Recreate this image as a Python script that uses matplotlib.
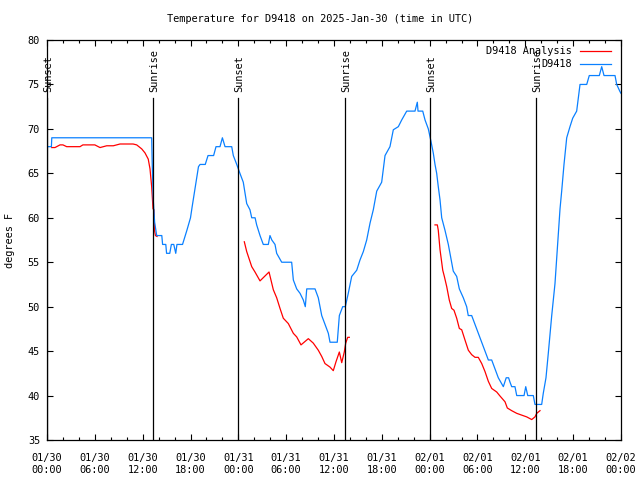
import numpy as np
import matplotlib
matplotlib.use("Agg")
import matplotlib.pyplot as plt

# hours since 2025-01-30 00:00 UTC
obs_hours = [0.0, 0.55, 0.6, 13.13, 13.2, 13.33, 13.5, 13.76, 14.4, 14.5, 14.9, 15.0, 15.4, 15.6, 15.9,
             16.15, 16.3, 17.0, 17.55, 18.0, 18.2, 18.6, 19.0, 19.2, 19.85, 20.2, 20.9, 21.2, 21.7, 22.0,
             22.33, 23.17, 23.37, 23.8, 24.2, 24.62, 24.84, 25.05, 25.46, 25.68, 26.1, 26.3, 26.72, 27.13,
             27.76, 27.97, 28.2, 28.6, 28.81, 29.44, 30.69, 30.9, 31.32, 31.74, 32.15, 32.4, 32.58, 33.62,
             34.03, 34.46, 34.87, 35.29, 35.5, 36.41, 36.67, 37.09, 37.42, 37.79, 38.22, 38.85, 39.26,
             39.68, 40.1, 40.52, 40.93, 41.36, 41.98, 42.4, 43.02, 43.44, 44.07, 44.49, 45.12, 46.16,
             46.45, 46.54, 47.13, 47.42, 47.83, 48.13, 48.46, 48.67, 48.88, 49.08, 49.3, 49.51, 49.92,
             50.34, 50.55, 50.96, 51.39, 51.72, 52.22, 52.64, 52.84, 53.27, 53.69, 54.1, 54.53, 54.94,
             55.36, 55.78, 56.2, 56.61, 57.24, 57.6, 57.9, 58.08, 58.29, 58.7, 58.92, 59.84, 60.05, 60.3,
             61.0, 61.21, 62.05, 62.25, 62.59, 62.88, 63.31, 63.72, 64.01, 64.35, 64.56, 64.85, 65.19,
             65.6, 65.94, 66.44, 66.86, 67.7, 68.02, 69.28, 69.58, 69.87, 71.25, 71.46, 71.87, 72.0]
obs_temp = [68, 68, 69, 69, 66, 62, 59.5, 58, 58, 57, 57, 56, 56, 57, 57,
            56, 57, 57, 58.6, 60, 61.2, 63.5, 65.75, 66, 66, 67, 67, 68, 68, 69,
            68, 68, 67, 66, 65, 64, 62.75, 61.6, 60.9, 60, 60, 59.2, 58, 57,
            57, 58, 57.5, 57, 56, 55, 55, 53, 52, 51.5, 50.75, 50, 52, 52,
            51, 49, 48, 47, 46, 46, 49, 50, 50, 51.5, 53.4, 54.1, 55.25,
            56.2, 57.5, 59.4, 60.9, 63, 64, 67, 68, 69.9, 70.25, 71, 72, 72,
            73, 72, 72, 71, 70, 68.75, 67.25, 66, 65, 63.5, 62, 60, 58.6,
            57, 56, 54, 53.4, 52, 51, 50, 49, 49, 48, 47, 46, 45,
            44, 44, 43, 42, 41, 42, 42, 41.5, 41, 41, 40, 40, 41, 40,
            40, 39, 39, 40.25, 42, 44.75, 49, 52.6, 56.4, 61, 63, 66, 69,
            70.25, 71.2, 72, 75, 75, 76, 76, 77, 76, 76, 75, 74.2, 74]

ana_hours = [0.59, 1.0, 1.63, 2.0, 2.47, 4.14, 4.5, 6.0, 6.65, 7.49, 8.32, 9.16, 10.8, 11.25, 11.88,
             12.29, 12.7, 12.92, 13.13, 13.3, 13.42, 13.5, 13.6, 13.8, np.nan,
             24.75, 25.05, 25.68, 26.09, 26.72, 27.85, 28.39, 28.81, 29.23, 29.64, 30.27, 30.9, 31.32,
             31.86, 32.78, 33.4, 34.03, 34.46, 34.87, 35.5, 35.91, 36.25, 36.67, 36.97, 37.29, 37.47,
             37.72, 37.92, np.nan,
             48.67, 48.96, 49.08, 49.3, 49.64, 49.84, 50.14, 50.46, 50.76, 51.05, 51.39, 51.72, 52.02,
             52.43, 52.85, 53.27, 53.69, 54.1, 54.53, 54.94, 55.36, 55.78, 56.41, 56.82, 57.45, 57.74,
             58.29, 58.92, 59.54, 60.17, 60.8, 61.21, 61.43, 61.84]
ana_temp = [67.9, 67.9, 68.2, 68.2, 68.0, 68.0, 68.2, 68.2, 67.9, 68.1, 68.1, 68.3, 68.3, 68.2, 67.75,
            67.3, 66.6, 65.5, 63.5, 61, 60.9, 58.5, 58, 57.9, np.nan,
            57.3, 56.2, 54.5, 53.9, 52.9, 53.9, 51.9, 51.0, 49.8, 48.7, 48.1, 47.0, 46.6,
            45.7, 46.4, 45.9, 45.1, 44.4, 43.6, 43.2, 42.8, 43.8, 44.9, 43.7, 44.9, 45.9,
            46.55, 46.55, np.nan,
            59.2, 59.2, 58.6, 56.4, 54.1, 53.4, 52.25, 50.75, 49.8, 49.6, 48.7, 47.55, 47.4,
            46.25, 45.1, 44.6, 44.3, 44.3, 43.6, 42.7, 41.6, 40.8, 40.4, 39.95, 39.3, 38.6,
            38.3, 38.0, 37.8, 37.6, 37.3, 37.6, 38.0, 38.3]

sun_hours = [0.0, 13.33, 24.0, 37.42, 48.08, 61.38]
sun_labels = ["Sunset", "Sunrise", "Sunset", "Sunrise", "Sunset", "Sunrise"]

tick_hours = [0, 6, 12, 18, 24, 30, 36, 42, 48, 54, 60, 66, 72]
tick_labels = ["01/30\n00:00", "01/30\n06:00", "01/30\n12:00", "01/30\n18:00",
               "01/31\n00:00", "01/31\n06:00", "01/31\n12:00", "01/31\n18:00",
               "02/01\n00:00", "02/01\n06:00", "02/01\n12:00", "02/01\n18:00",
               "02/02\n00:00"]

plt.rcParams['font.family'] = 'DejaVu Sans Mono'
fs = 7.4

fig = plt.figure(figsize=(6.4, 4.8), dpi=100)
ax = fig.add_axes([47/640, 40/480, 574/640, 400/480])

ax.plot(ana_hours, ana_temp, color="#ff0000", lw=0.9, label="D9418 Analysis")
ax.plot(obs_hours, obs_temp, color="#0a80ff", lw=0.9, label="D9418")

for h, lab in zip(sun_hours, sun_labels):
    ax.plot([h, h], [35, 73.5], color="k", lw=0.9)
    ax.text(h + 0.1, 74.15, lab, rotation=90, ha="center", va="bottom", fontsize=fs)

ax.set_xlim(0, 72)
ax.set_ylim(35, 80)
ax.set_xticks(tick_hours)
ax.set_xticklabels(tick_labels, fontsize=fs, linespacing=1.3)
ax.set_xticks(np.arange(0, 73, 2), minor=True)
ax.set_yticks(np.arange(35, 81, 5))
ax.tick_params(axis="y", labelsize=fs)
ax.tick_params(which="both", direction="in", top=True, right=True, width=0.8)
ax.tick_params(axis="x", which="both", pad=9)
ax.tick_params(axis="y", which="both", pad=5)
ax.tick_params(which="major", length=4)
ax.tick_params(which="minor", length=2)
for s in ax.spines.values():
    s.set_linewidth(0.9)

ax.set_ylabel("degrees F", fontsize=fs, labelpad=9)
fig.text(0.5, 1 - 19/480, "Temperature for D9418 on 2025-Jan-30 (time in UTC)",
         ha="center", va="center", fontsize=fs)

ax.legend(loc="upper right", bbox_to_anchor=(0.99, 0.995), frameon=False, fontsize=fs,
          markerfirst=False, handlelength=3.0, handletextpad=0.8, labelspacing=0.3,
          borderaxespad=0.0)

fig.savefig("out.png", dpi=100)
